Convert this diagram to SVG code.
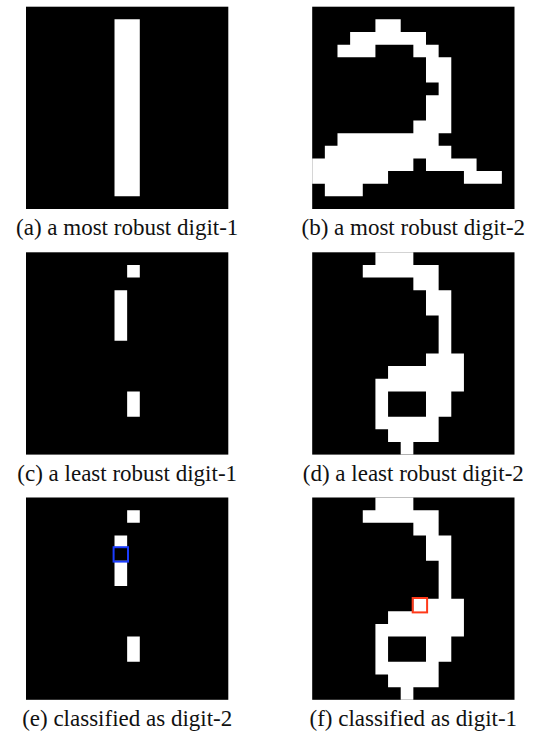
<svg xmlns="http://www.w3.org/2000/svg" width="538" height="740" viewBox="0 0 538 740">
<style>
.bg{fill:#000}
.px{fill:#fff}
.cap{font-family:"Liberation Serif","Times New Roman",serif;font-size:23px;fill:#111;text-anchor:middle}
.box{fill:none;stroke-width:2}
</style>
<rect width="538" height="740" fill="#fff"/>
<g id="panel-a">
<rect class="bg" x="26" y="6.7" width="202.3" height="202.3"/>
<path class="px" transform="translate(26,6.7) scale(12.644)" d="M7 1h2v14h-2z"/>
<text class="cap" x="127.2" y="235">(a) a most robust digit-1</text>
</g>
<g id="panel-b">
<rect class="bg" x="312.2" y="6.7" width="202.3" height="202.3"/>
<path class="px" transform="translate(312.2,6.7) scale(12.644)" d="M5 1h2v1h-2z M3 2h6v1h-6z M2 3h3v1h-3z M8 3h2v1h-2z M9 4h2v2h-2z M10 6h1v1h-1z M9 7h2v2h-2z M8 9h3v1h-3z M2 10h8v1h-8z M1 11h10v1h-10z M0 12h8v1h-8z M9 12h4v1h-4z M0 13h6v1h-6z M12 13h3v1h-3z M1 14h3v1h-3z"/>
<text class="cap" x="413.3" y="235">(b) a most robust digit-2</text>
</g>
<g id="panel-c">
<rect class="bg" x="26" y="252.3" width="202.3" height="202.3"/>
<path class="px" transform="translate(26,252.3) scale(12.644)" d="M8 1h1v1h-1z M7 3h1v4h-1z M8 11h1v2h-1z"/>
<text class="cap" x="127.2" y="480.5">(c) a least robust digit-1</text>
</g>
<g id="panel-d">
<rect class="bg" x="312.2" y="252.3" width="202.3" height="202.3"/>
<path class="px" transform="translate(312.2,252.3) scale(12.644)" d="M5 0h3v1h-3z M4 1h6v1h-6z M8 2h2v1h-2z M9 3h2v2h-2z M10 5h1v3h-1z M9 8h3v1h-3z M6 9h6v1h-6z M5 10h7v1h-7z M5 11h1v2h-1z M9 11h2v2h-2z M5 13h5v1h-5z M6 14h4v1h-4z M7 15h1v1h-1z"/>
<text class="cap" x="413.3" y="480.5">(d) a least robust digit-2</text>
</g>
<g id="panel-e">
<rect class="bg" x="26" y="497.5" width="202.3" height="202.3"/>
<path class="px" transform="translate(26,497.5) scale(12.644)" d="M8 1h1v1h-1z M7 3h1v1h-1z M7 5h1v2h-1z M8 11h1v2h-1z"/>
<rect class="box" stroke="#1a3cff" x="113.6" y="547.2" width="14.4" height="14.4"/>
<text class="cap" x="127.2" y="725.5">(e) classified as digit-2</text>
</g>
<g id="panel-f">
<rect class="bg" x="312.2" y="497.5" width="202.3" height="202.3"/>
<path class="px" transform="translate(312.2,497.5) scale(12.644)" d="M5 0h3v1h-3z M4 1h6v1h-6z M8 2h2v1h-2z M9 3h2v2h-2z M10 5h1v3h-1z M8 8h4v1h-4z M6 9h6v1h-6z M5 10h7v1h-7z M5 11h1v2h-1z M9 11h2v2h-2z M5 13h5v1h-5z M6 14h4v1h-4z M7 15h1v1h-1z"/>
<rect class="box" stroke="#ff3a1a" x="412.7" y="598" width="14.4" height="14.4"/>
<text class="cap" x="413.3" y="725.5">(f) classified as digit-1</text>
</g>
</svg>
